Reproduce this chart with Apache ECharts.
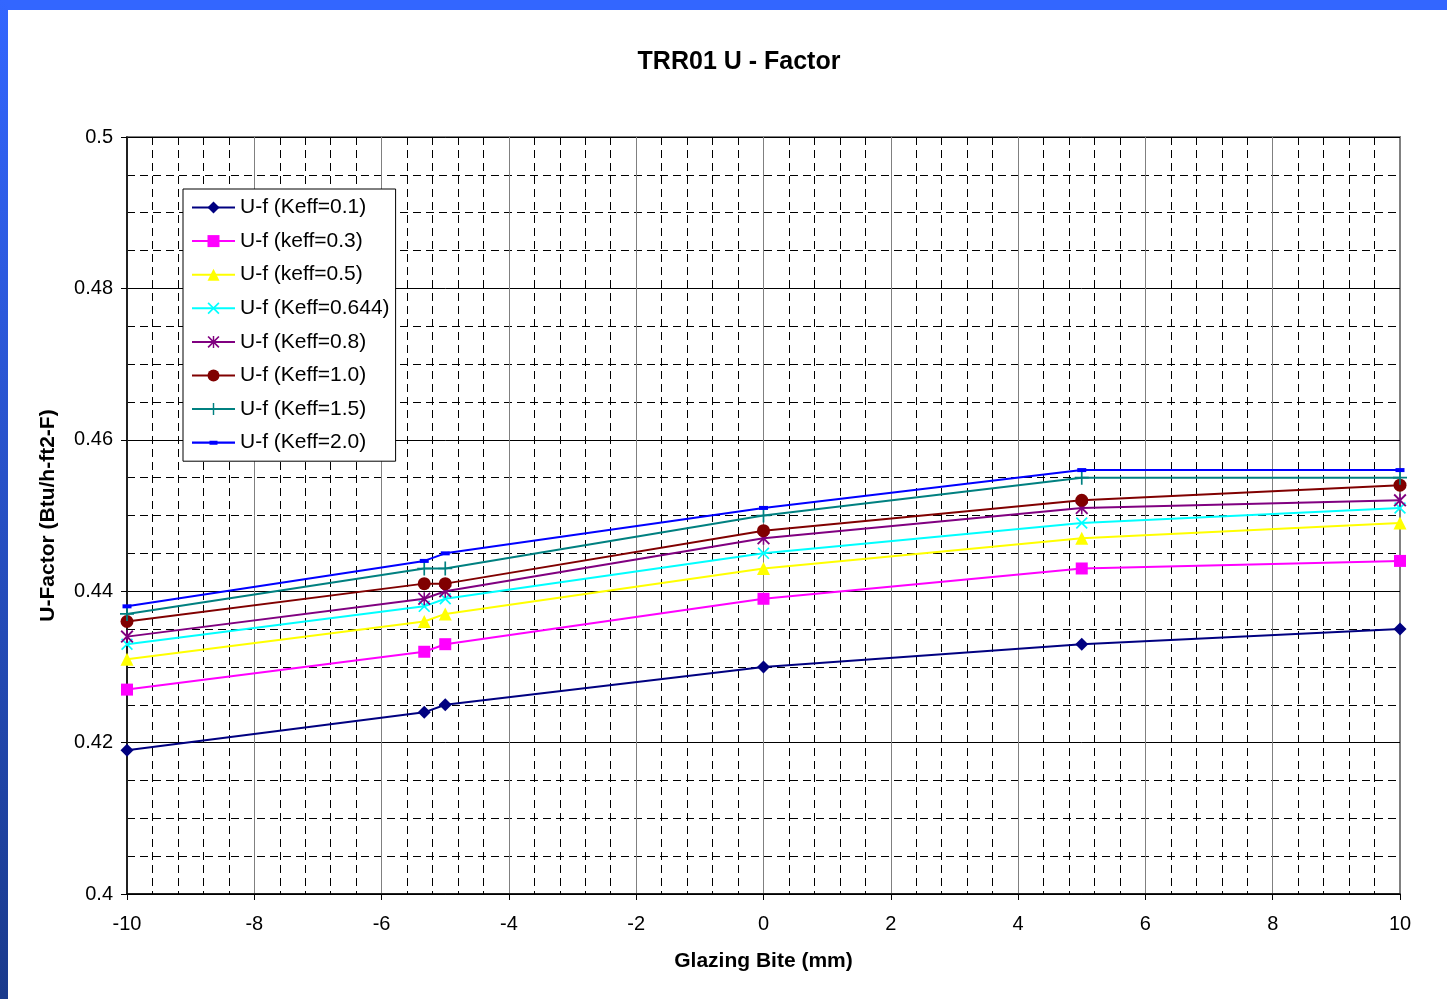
<!DOCTYPE html>
<html>
<head>
<meta charset="utf-8">
<script src="https://cdn.jsdelivr.net/npm/echarts@6/dist/echarts.min.js"></script>
<style>
html,body{margin:0;padding:0;background:#fff;}
#chart{width:1447px;height:999px;}
</style>
</head>
<body>
<div id="chart"></div>
<script>
var xVals = [-10, -5.33, -5, 0, 5, 10];
var seriesNames = ['U-f (Keff=0.1)', 'U-f (keff=0.3)', 'U-f (keff=0.5)', 'U-f (Keff=0.644)', 'U-f (Keff=0.8)', 'U-f (Keff=1.0)', 'U-f (Keff=1.5)', 'U-f (Keff=2.0)'];
var k01  = [0.419, 0.424, 0.425, 0.430, 0.433, 0.435];
var k03  = [0.427, 0.432, 0.433, 0.439, 0.443, 0.444];
var k05  = [0.431, 0.436, 0.437, 0.443, 0.447, 0.449];
var k0644= [0.433, 0.438, 0.439, 0.445, 0.449, 0.451];
var k08  = [0.434, 0.439, 0.440, 0.447, 0.451, 0.452];
var k10  = [0.436, 0.441, 0.441, 0.448, 0.452, 0.454];
var k15  = [0.437, 0.443, 0.443, 0.450, 0.455, 0.455];
var k20  = [0.438, 0.444, 0.445, 0.451, 0.456, 0.456];
var xTicks = [-10, -8, -6, -4, -2, 0, 2, 4, 6, 8, 10];
var yTicks = ['0.4', '0.42', '0.44', '0.46', '0.48', '0.5'];

var allValues = [k01, k03, k05, k0644, k08, k10, k15, k20];
var colors = ['#000080', '#FF00FF', '#FFFF00', '#00FFFF', '#800080', '#800000', '#008080', '#0000FF'];
var X_PATH = 'path://M0,1L1,0L10,9L9,10Z M9,0L10,1L1,10L0,9Z';
var STAR_PATH = 'path://M4.4,0H5.6V10H4.4Z M0,1L1,0L10,9L9,10Z M9,0L10,1L1,10L0,9Z';
var PLUS_PATH = 'path://M4.4,0H5.6V4.4H10V5.6H5.6V10H4.4V5.6H0V4.4H4.4Z';
var DASH_LEGEND = 'path://M0,0.9H43V3.1H0Z M17.5,0H25.5V4H17.5Z';
var symbols = ['diamond', 'rect', 'triangle', X_PATH, STAR_PATH, 'circle', PLUS_PATH, 'rect'];
var sizes = [13, 12, 13, 12, 13, 13, 14, [9, 4]];

var series = allValues.map(function (vals, i) {
  return {
    name: seriesNames[i],
    type: 'line',
    data: xVals.map(function (x, j) { return [x, vals[j]]; }),
    symbol: symbols[i],
    symbolSize: sizes[i],
    showAllSymbol: true,
    lineStyle: { color: colors[i], width: 2 },
    itemStyle: { color: colors[i], borderColor: colors[i], borderWidth: 0 },
    emphasis: { disabled: true },
    z: 3 + i
  };
});

var legendData = seriesNames.map(function (n, i) {
  return i === 7 ? { name: n, icon: DASH_LEGEND } : { name: n };
});

var chart = echarts.init(document.getElementById('chart'), null, { renderer: 'canvas' });
chart.setOption({
  animation: false,
  backgroundColor: '#ffffff',
  textStyle: { fontFamily: 'Liberation Sans, Arial, sans-serif' },
  title: {
    text: 'TRR01 U - Factor',
    left: 734,
    textAlign: 'center',
    top: 45,
    textStyle: { fontSize: 25, fontWeight: 'bold', color: '#000', fontFamily: 'Liberation Sans, Arial, sans-serif' }
  },
  graphic: [
    { type: 'rect', left: 0, top: 0, z: 100, shape: { width: 1447, height: 10 }, style: { fill: '#3366FF' } },
    { type: 'rect', left: 0, top: 0, z: 100, shape: { width: 8, height: 999 },
      style: { fill: new echarts.graphic.LinearGradient(0, 0, 0, 1, [
        { offset: 0, color: '#3366FF' }, { offset: 1, color: '#1a3a8c' }]) } }
  ],
  legend: {
    orient: 'vertical',
    left: 183,
    top: 189,
    padding: [8, 6, 8, 8],
    itemGap: 12.6,
    itemWidth: 43,
    itemHeight: 15,
    symbolKeepAspect: true,
    backgroundColor: '#ffffff',
    borderColor: '#000000',
    borderWidth: 1,
    borderRadius: 0,
    textStyle: { fontSize: 21, color: '#000', fontFamily: 'Liberation Sans, Arial, sans-serif' },
    data: legendData
  },
  grid: {
    left: 127, right: 47, top: 137, bottom: 105,
    show: true, borderColor: '#808080', borderWidth: 2, backgroundColor: 'transparent'
  },
  xAxis: {
    type: 'value',
    min: -10, max: 10, interval: 2,
    name: 'Glazing Bite (mm)',
    nameLocation: 'middle',
    nameGap: 57,
    nameTextStyle: { fontSize: 21, fontWeight: 'bold', color: '#000' },
    axisLine: { show: true, onZero: false, lineStyle: { color: '#000', width: 1.5 } },
    axisTick: { show: true, length: 6, lineStyle: { color: '#000' } },
    axisLabel: { fontSize: 20, color: '#000', margin: 20,
      formatter: function (v) { return xTicks.indexOf(v) >= 0 ? String(v) : ''; } },
    splitLine: { show: true, lineStyle: { color: '#808080', width: 1 } },
    minorTick: { show: false, splitNumber: 5 },
    minorSplitLine: { show: true, lineStyle: { color: '#000', width: 1, type: [8, 5] } }
  },
  yAxis: {
    type: 'value',
    min: 0.4, max: 0.5, interval: 0.02,
    name: 'U-Factor (Btu/h-ft2-F)',
    nameLocation: 'middle',
    nameGap: 68,
    nameTextStyle: { fontSize: 21, fontWeight: 'bold', color: '#000' },
    axisLine: { show: true, onZero: false, lineStyle: { color: '#000', width: 1.5 } },
    axisTick: { show: true, length: 6, lineStyle: { color: '#000' } },
    axisLabel: { fontSize: 20, color: '#000', margin: 14,
      formatter: function (v) { var s = String(+v.toFixed(2)); return yTicks.indexOf(s) >= 0 ? s : ''; } },
    splitLine: { show: true, lineStyle: { color: '#000', width: 1 } },
    minorTick: { show: false, splitNumber: 4 },
    minorSplitLine: { show: true, lineStyle: { color: '#000', width: 1, type: [8, 5] } }
  },
  series: series
});
</script>
</body>
</html>
